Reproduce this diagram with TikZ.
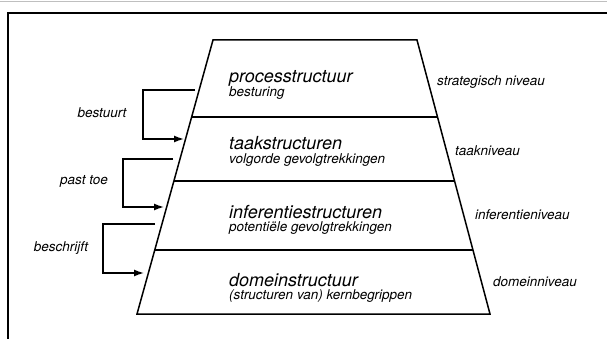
\documentclass[tikz,border=0pt]{standalone}
\usepackage{fontspec}
\setmainfont{TeX Gyre Heros}
\usetikzlibrary{arrows.meta,positioning,calc}

\begin{document}
\begin{tikzpicture}[x=1pt,y=-1pt,
  laag/.style={font=\fontsize{18}{20}\selectfont\itshape,anchor=west,inner sep=0pt},
  sublaag/.style={font=\fontsize{13.5}{15}\selectfont\itshape,anchor=west,inner sep=0pt},
  niveau/.style={font=\fontsize{13.5}{15}\selectfont\itshape,anchor=west,inner sep=0pt},
  relatie/.style={font=\fontsize{13.5}{15}\selectfont\itshape,inner sep=0pt},
  lijn/.style={line width=1.5pt},
  pijl/.style={line width=1.4pt,-{Latex[length=10pt,width=7pt]}}]
\useasboundingbox (0,0) rectangle (607,339);

% Frame
\draw[gray!50,line width=0.6pt] (0,1) -- (607,1);
\draw[line width=1.5pt] (8,345) -- (8,13) -- (615,13);

% Pyramid
\coordinate (tl) at (213,40);
\coordinate (tr) at (417,40);
\coordinate (bl) at (137,314);
\coordinate (br) at (490,314);
\draw[lijn] (tl) -- (tr) -- (br) -- (bl) -- cycle;

% Layer borders
\draw[lijn] ($(tl)!0.281!(bl)$) -- ($(tr)!0.281!(br)$);
\draw[lijn] ($(tl)!0.515!(bl)$) -- ($(tr)!0.515!(br)$);
\draw[lijn] ($(tl)!0.766!(bl)$) -- ($(tr)!0.766!(br)$);

% Layer texts
\node[laag] (proces) at (229,78) {processtructuur};
\node[sublaag] (besturing) at (229,93) {besturing};
\node[laag] (taak) at (229,143) {taakstructuren};
\node[sublaag] (volgorde) at (229,160) {volgorde gevolgtrekkingen};
\node[laag] (inferentie) at (229,212) {inferentiestructuren};
\node[sublaag] (potentieel) at (229,228) {potentiële gevolgtrekkingen};
\node[laag] (domein) at (229,280) {domeinstructuur};
\node[sublaag] (kern) at (229,296) {(structuren van) kernbegrippen};

% Levels
\node[niveau] (strategisch) at (437,82) {strategisch niveau};
\node[niveau] (taakniveau) at (455,151) {taakniveau};
\node[niveau] (infniveau) at (475,215) {inferentieniveau};
\node[niveau] (domniveau) at (493,282) {domeinniveau};

% Relations between layers
\coordinate (s1) at (195,90);
\coordinate (k1) at (143,139);
\coordinate (e1) at (184,139);
\draw[pijl] (s1) -| (k1) -- (e1);
\node[relatie] (bestuurt) at (102,113) {bestuurt};

\coordinate (s2) at (173,159);
\coordinate (k2) at (123,207);
\coordinate (e2) at (164,207);
\draw[pijl] (s2) -| (k2) -- (e2);
\node[relatie] (pasttoe) at (84,181) {past toe};

\coordinate (s3) at (155,224);
\coordinate (k3) at (103,273);
\coordinate (e3) at (144,273);
\draw[pijl] (s3) -| (k3) -- (e3);
\node[relatie] (beschrijft) at (61,248) {beschrijft};
\end{tikzpicture}
\end{document}
